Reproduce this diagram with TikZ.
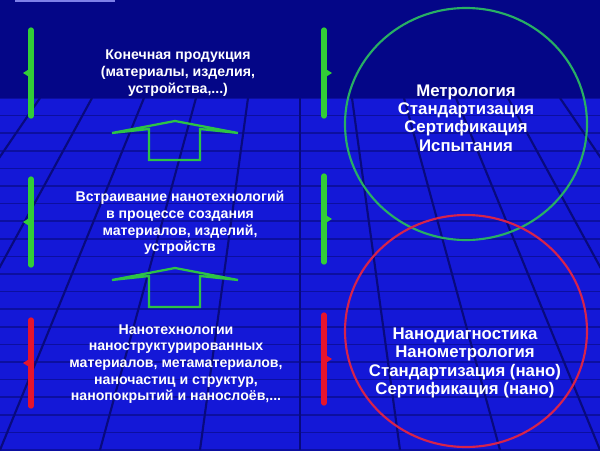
\documentclass[tikz,border=0pt]{standalone}
\usepackage{fontspec}
\setmainfont{Liberation Sans}
\definecolor{bgtop}{RGB}{4,6,135}
\definecolor{bgblue}{RGB}{20,24,215}
\definecolor{gridc}{RGB}{8,10,125}
\definecolor{gridh}{RGB}{12,15,160}
\definecolor{brgreen}{RGB}{50,205,55}
\definecolor{brred}{RGB}{230,20,45}
\definecolor{cgreen}{RGB}{40,175,100}
\definecolor{cred}{RGB}{215,35,75}
\definecolor{agreen}{RGB}{45,195,70}
\tikzset{
  gridline/.style={draw=gridc, line width=1.6pt},
  hgridline/.style={draw=gridh, line width=1.1pt},
  bracebar/.style={line width=4pt, line cap=round},
  hollowarrow/.style={draw=agreen, line width=1.7pt, line join=miter},
  ring/.style={line width=1.6pt},
  lefttext/.style={text=white, align=center, font=\bfseries\fontsize{10.6}{12.5}\selectfont, inner sep=0pt},
  righttext/.style={text=white, align=center, font=\bfseries\fontsize{12.6}{13.8}\selectfont, inner sep=0pt},
}
\newcommand{\mybrace}[5]{% x, ytop, ybot, direction (+1 right, -1 left), color
  \draw[bracebar, draw=#5] (#1,#2) -- (#1,#3);
  \fill[#5] (#1,{(#2+#3)/2-5}) -- ({#1+#4*8},{(#2+#3)/2}) -- (#1,{(#2+#3)/2+5}) -- cycle;
}
\begin{document}
\begin{tikzpicture}[x=0.75pt,y=-0.75pt]
\useasboundingbox (0,0) rectangle (600,450);
% background
\fill[bgtop] (0,0) rectangle (600,98);
\fill[bgblue] (0,98) rectangle (600,450);
\fill[white!45!bgblue] (15,0) rectangle (115,1.5);
\begin{scope}
  \clip (0,98) rectangle (600,450);
  \foreach \k in {0,...,20} \draw[hgridline] (0,{98+17.6*\k}) -- (600,{98+17.6*\k});
  \foreach \k in {-9,...,9} \draw[gridline] ({300+52*\k},98) -- ({300+100*\k},450);
\end{scope}
% braces
\mybrace{31}{30}{116}{-1}{brgreen}
\mybrace{324}{30}{116}{1}{brgreen}
\mybrace{31}{179}{265}{-1}{brgreen}
\mybrace{324}{176}{262}{1}{brgreen}
\mybrace{31}{320}{406}{-1}{brred}
\mybrace{324}{315}{403}{1}{brred}
% hollow arrows
\draw[hollowarrow] (149,160) -- (149,129) -- (112,133) -- (175,121) -- (238,133) -- (200,129) -- (200,160) -- cycle;
\draw[hollowarrow] (149,307) -- (149,276) -- (112,280) -- (175,268) -- (238,280) -- (200,276) -- (200,307) -- cycle;
% circles
\draw[ring, cgreen] (466,124) ellipse [x radius=121, y radius=116];
\draw[ring, cred] (466,331) ellipse [x radius=121, y radius=116];
% texts
\node[lefttext] (t1) at (178,73) {Конечная продукция\\(материалы, изделия,\\устройства,...)};
\node[lefttext] (t2) at (180,223) {Встраивание нанотехнологий\\в процессе создания\\материалов, изделий,\\устройств};
\node[lefttext] (t3) at (176,364) {Нанотехнологии\\наноструктурированных\\материалов, метаматериалов,\\наночастиц и структур,\\нанопокрытий и нанослоёв,...};
\node[righttext] (r1) at (466,118) {Метрология\\Стандартизация\\Сертификация\\Испытания};
\node[righttext] (r2) at (465,363) {Нанодиагностика\\Нанометрология\\Стандартизация (нано)\\Сертификация (нано)};
\end{tikzpicture}
\end{document}
